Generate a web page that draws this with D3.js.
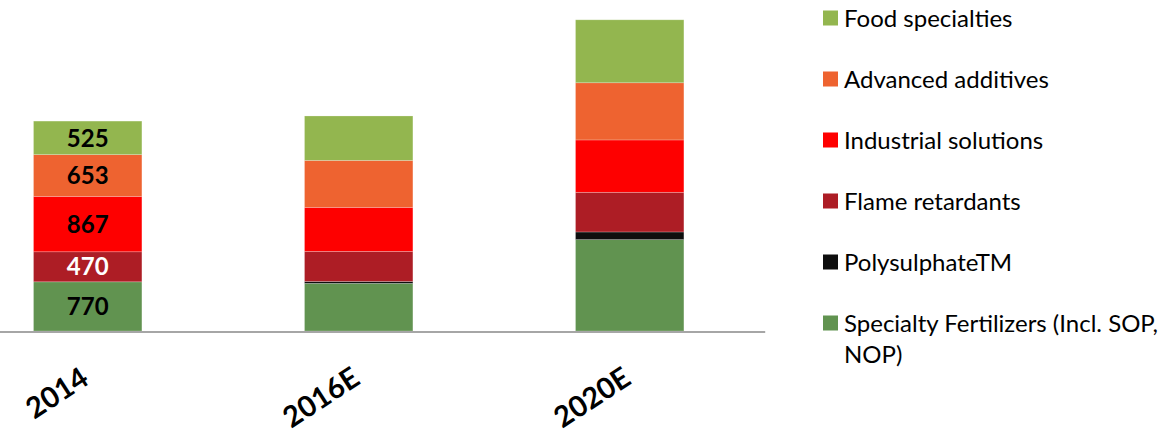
<!DOCTYPE html>
<html>
<head>
<meta charset="utf-8">
<script src="https://cdn.jsdelivr.net/npm/d3@7/dist/d3.min.js"></script>
<style>
  html, body { margin: 0; padding: 0; background: #ffffff; }
  svg { display: block; }
</style>
</head>
<body>
<svg id="chart" width="1168" height="435"></svg>
<script>
// Years on the category axis
const categories = ["2014", "2016E", "2020E"];

// Segments, bottom to top of each stack
const seriesNames = [
  "Specialty Fertilizers (Incl. SOP, NOP)",
  "PolysulphateTM",
  "Flame retardants",
  "Industrial solutions",
  "Advanced additives",
  "Food specialties"
];
const seriesColors = ["#619350", "#0e0e0e", "#ad1d25", "#fe0000", "#ee6330", "#93b64f"];

// Values per year, one array per segment
const specialtyFertilizers = [770, 745, 1430];
const polysulphate        = [0, 30, 120];
const flameRetardants     = [470, 470, 620];
const industrialSolutions = [867, 690, 820];
const advancedAdditives   = [653, 735, 895];
const foodSpecialties     = [525, 695, 985];

// Value labels printed on the 2014 stack only
const labelledYear = "2014";

// Legend order (top to bottom)
const legendOrder = [5, 4, 3, 2, 1, 0];

const seriesValues = [specialtyFertilizers, polysulphate, flameRetardants,
                      industrialSolutions, advancedAdditives, foodSpecialties];

const rows = categories.map((c, i) => {
  const r = { year: c };
  seriesNames.forEach((s, k) => { r[s] = seriesValues[k][i]; });
  return r;
});

const stack = d3.stack().keys(seriesNames);
const layers = stack(rows);

const svg = d3.select("#chart");

const x = d3.scaleBand()
  .domain(categories)
  .range([-47.8, 765.2])
  .paddingInner(0.6)
  .paddingOuter(0.3);

const y = d3.scaleLinear().domain([0, 5180]).range([331, 0]);

const color = d3.scaleOrdinal().domain(seriesNames).range(seriesColors);

// Stacked bars
const gBars = svg.append("g");
gBars.selectAll("g.layer")
  .data(layers)
  .join("g")
  .attr("class", "layer")
  .attr("fill", d => color(d.key))
  .selectAll("rect")
  .data(d => d.filter(p => p[1] > p[0]))
  .join("rect")
  .attr("x", d => x(d.data.year))
  .attr("width", x.bandwidth())
  .attr("y", d => y(d[1]))
  .attr("height", d => y(d[0]) - y(d[1]))
  .attr("stroke", "rgba(255,255,255,0.3)")
  .attr("stroke-width", 0.75);

// Category axis line
svg.append("line")
  .attr("x1", 0).attr("x2", x.range()[1])
  .attr("y1", y(0) + 1).attr("y2", y(0) + 1)
  .attr("stroke", "#a6a6a6")
  .attr("stroke-width", 2);

// Rotated year labels
svg.append("g")
  .selectAll("text")
  .data(categories)
  .join("text")
  .attr("transform", d => `translate(${x(d) + x.bandwidth() / 2 + 3},${y(0) + 52}) rotate(-33)`)
  .attr("text-anchor", "end")
  .attr("font-family", "Lato, 'Open Sans', sans-serif")
  .attr("font-weight", 700)
  .attr("font-size", 29)
  .attr("fill", "#000")
  .text(d => d);

// Value labels inside the 2014 stack
const labelData = [];
layers.forEach(layer => {
  layer.forEach(p => {
    if (p.data.year === labelledYear && p[1] > p[0]) {
      labelData.push({ key: layer.key, year: p.data.year, v0: p[0], v1: p[1] });
    }
  });
});
svg.append("g")
  .selectAll("text")
  .data(labelData)
  .join("text")
  .attr("x", d => x(d.year) + x.bandwidth() / 2)
  .attr("y", d => (y(d.v0) + y(d.v1)) / 2)
  .attr("dy", "0.36em")
  .attr("text-anchor", "middle")
  .attr("font-family", "Lato, 'Open Sans', sans-serif")
  .attr("font-weight", 700)
  .attr("font-size", 24)
  .attr("fill", d => d.key === "Flame retardants" ? "#ffffff" : "#000000")
  .text(d => d3.format("d")(d.v1 - d.v0));

// Legend
const legend = svg.append("g").attr("transform", "translate(823,0)");
const legendItems = legend.selectAll("g")
  .data(legendOrder)
  .join("g")
  .attr("transform", (k, i) => `translate(0,${18 + i * 61})`);

legendItems.append("rect")
  .attr("x", 0).attr("y", -7.5)
  .attr("width", 15).attr("height", 15)
  .attr("fill", k => seriesColors[k]);

legendItems.append("text")
  .attr("x", 21)
  .attr("y", 8.5)
  .attr("font-family", "Lato, 'Open Sans', sans-serif")
  .attr("font-size", 24)
  .attr("fill", "#000")
  .each(function (k) {
    const name = seriesNames[k];
    const t = d3.select(this);
    const parts = name === "Specialty Fertilizers (Incl. SOP, NOP)"
      ? ["Specialty Fertilizers (Incl. SOP,", "NOP)"]
      : [name];
    parts.forEach((p, j) => {
      t.append("tspan").attr("x", 21).attr("dy", j === 0 ? 0 : 31).text(p);
    });
  });
</script>
</body>
</html>
